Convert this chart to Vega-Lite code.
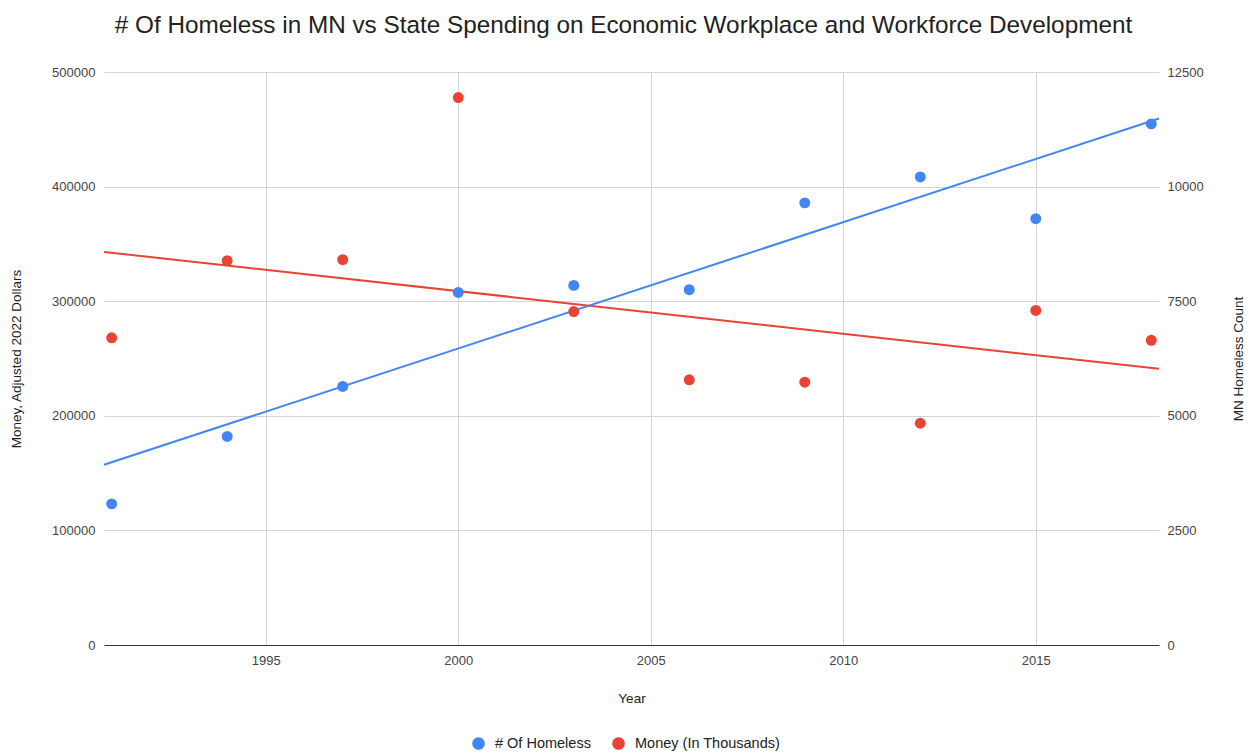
{
  "$schema": "https://vega.github.io/schema/vega-lite/v6.json",
  "width": 1055,
  "height": 573,
  "autosize": {"type": "none"},
  "padding": {"left": 104, "top": 72, "right": 91, "bottom": 109},
  "background": "white",
  "title": {
    "text": "# Of Homeless in MN vs State Spending on Economic Workplace and Workforce Development",
    "fontSize": 24.3,
    "font": "Liberation Sans",
    "fontWeight": "normal",
    "color": "#222222",
    "offset": 28,
    "dx": -8
  },
  "config": {
    "font": "Liberation Sans",
    "view": {"stroke": null},
    "axis": {"labelFont": "Liberation Sans", "titleFont": "Liberation Sans"}
  },
  "data": {
    "values": [
      {"Year": 1991, "Homeless": 3079, "Money": 268100},
      {"Year": 1994, "Homeless": 4550, "Money": 335300},
      {"Year": 1997, "Homeless": 5640, "Money": 336200},
      {"Year": 2000, "Homeless": 7692, "Money": 477700},
      {"Year": 2003, "Homeless": 7845, "Money": 291000},
      {"Year": 2006, "Homeless": 7750, "Money": 231400},
      {"Year": 2009, "Homeless": 9645, "Money": 229300},
      {"Year": 2012, "Homeless": 10210, "Money": 193500},
      {"Year": 2015, "Homeless": 9300, "Money": 291900},
      {"Year": 2018, "Homeless": 11368, "Money": 265900}
    ]
  },
  "encoding": {
    "x": {
      "field": "Year",
      "type": "quantitative",
      "scale": {"domain": [1990.8, 2018.2], "nice": false, "zero": false},
      "axis": {
        "title": "Year",
        "values": [1995, 2000, 2005, 2010, 2015],
        "format": "d",
        "grid": true,
        "gridColor": "#d4d4d4",
        "gridWidth": 1,
        "domainColor": "#333333",
        "domainWidth": 1,
        "ticks": false,
        "labelFontSize": 13,
        "labelColor": "#444444",
        "labelPadding": 9,
        "titleFontSize": 13.5,
        "titleFontWeight": "normal",
        "titleColor": "#222222",
        "titlePadding": 24
      }
    }
  },
  "layer": [
    {
      "transform": [{"regression": "Money", "on": "Year", "extent": [1990.8, 2018.2]}],
      "mark": {"type": "line", "color": "#EA4335", "strokeWidth": 2},
      "encoding": {
        "y": {"field": "Money", "type": "quantitative", "scale": {"domain": [0, 500000], "nice": false}, "axis": null}
      }
    },
    {
      "transform": [{"regression": "Homeless", "on": "Year", "extent": [1990.8, 2018.2]}],
      "mark": {"type": "line", "color": "#4285F4", "strokeWidth": 2},
      "encoding": {
        "y": {"field": "Homeless", "type": "quantitative", "scale": {"domain": [0, 12500], "nice": false}, "axis": null}
      }
    },
    {
      "mark": {"type": "point", "filled": true, "opacity": 1, "size": 120},
      "encoding": {
        "y": {
          "field": "Homeless",
          "type": "quantitative",
          "scale": {"domain": [0, 12500], "nice": false},
          "axis": {
            "orient": "right",
            "title": "MN Homeless Count",
            "titleAngle": 270,
            "values": [0, 2500, 5000, 7500, 10000, 12500],
            "format": "d",
            "grid": false,
            "domain": false,
            "ticks": false,
            "labelFontSize": 13,
            "labelColor": "#444444",
            "labelPadding": 8,
            "titleFontSize": 13.5,
            "titleFontWeight": "normal",
            "titleColor": "#222222",
            "titlePadding": 42
          }
        },
        "color": {
          "datum": "# Of Homeless",
          "scale": {"domain": ["# Of Homeless", "Money (In Thousands)"], "range": ["#4285F4", "#EA4335"]},
          "legend": {
            "title": null,
            "orient": "none",
            "direction": "horizontal",
            "legendX": 367,
            "legendY": 664,
            "symbolType": "circle",
            "symbolSize": 160,
            "labelFontSize": 14.5,
            "labelColor": "#222222",
            "columnPadding": 20,
            "labelOffset": 9
          }
        }
      }
    },
    {
      "mark": {"type": "point", "filled": true, "opacity": 1, "size": 120},
      "encoding": {
        "y": {
          "field": "Money",
          "type": "quantitative",
          "scale": {"domain": [0, 500000], "nice": false},
          "axis": {
            "orient": "left",
            "title": "Money, Adjusted 2022 Dollars",
            "values": [0, 100000, 200000, 300000, 400000, 500000],
            "format": "d",
            "grid": true,
            "gridColor": "#d4d4d4",
            "gridWidth": 1,
            "domain": false,
            "ticks": false,
            "labelFontSize": 13,
            "labelColor": "#444444",
            "labelPadding": 9,
            "titleFontSize": 13.5,
            "titleFontWeight": "normal",
            "titleColor": "#222222",
            "titlePadding": 28
          }
        },
        "color": {"datum": "Money (In Thousands)"}
      }
    }
  ],
  "resolve": {"scale": {"y": "independent"}}
}
